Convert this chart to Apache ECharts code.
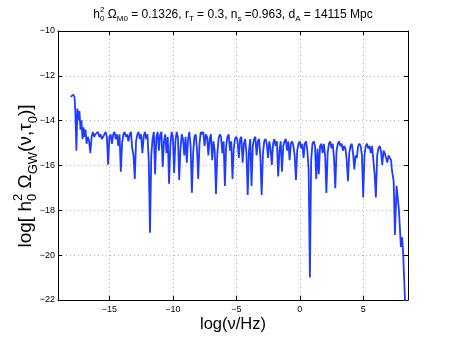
<html>
<head>
<meta charset="utf-8">
<script src="https://cdn.jsdelivr.net/npm/echarts@6/dist/echarts.min.js"></script>
<style>
  html, body, #main { width: 100%; height: 100%; margin: 0; background: #fff; }
</style>
</head>
<body>
<div id="main"></div>
<script>
// log(nu/Hz), log(h0^2 Omega_GW)
var spectrum = [
  [-18.05,-12.94],[-17.95,-12.89],[-17.85,-12.84],[-17.75,-12.94],[-17.68,-13.67],[-17.6,-15.34],[-17.52,-13.46],[-17.44,-13.98],[-17.36,-13.57],[-17.28,-14.4],
  [-17.2,-13.98],[-17.12,-14.82],[-17.04,-14.3],[-16.96,-14.72],[-16.88,-14.4],[-16.8,-15.03],[-16.7,-14.72],[-16.6,-14.92],[-16.5,-15.45],[-16.4,-14.72],
  [-16.3,-14.5],[-16.2,-14.72],[-16.1,-14.61],[-16.0,-14.66],[-15.9,-14.5],[-15.8,-14.72],[-15.7,-14.61],[-15.6,-14.82],[-15.5,-14.72],[-15.4,-14.61],
  [-15.3,-14.5],[-15.2,-14.72],[-15.1,-15.97],[-15.0,-14.72],[-14.9,-14.61],[-14.8,-15.03],[-14.7,-14.61],[-14.6,-14.5],[-14.5,-14.82],[-14.4,-14.61],
  [-14.3,-15.13],[-14.2,-14.61],[-14.1,-16.28],[-14.0,-15.03],[-13.9,-14.61],[-13.8,-14.5],[-13.7,-14.72],[-13.6,-14.61],[-13.5,-14.92],[-13.4,-14.61],
  [-13.3,-14.5],[-13.2,-15.24],[-13.1,-15.55],[-13.0,-16.6],[-12.9,-14.92],[-12.8,-14.61],[-12.7,-14.5],[-12.6,-14.82],[-12.5,-14.61],[-12.4,-15.45],
  [-12.3,-14.72],[-12.2,-14.5],[-12.1,-14.82],[-12.0,-14.61],[-11.9,-15.76],[-11.8,-19.0],[-11.7,-15.55],[-11.6,-14.82],[-11.5,-14.5],[-11.4,-16.39],
  [-11.3,-14.72],[-11.2,-14.5],[-11.1,-15.34],[-11.0,-14.61],[-10.9,-14.5],[-10.8,-16.07],[-10.7,-14.92],[-10.6,-14.61],[-10.5,-15.45],[-10.4,-14.72],
  [-10.3,-16.81],[-10.2,-15.13],[-10.1,-14.5],[-10.0,-14.72],[-9.9,-16.33],[-9.8,-14.92],[-9.7,-14.5],[-9.6,-14.72],[-9.5,-16.65],[-9.4,-15.24],
  [-9.3,-14.61],[-9.2,-14.82],[-9.1,-15.55],[-9.0,-14.72],[-8.9,-15.87],[-8.8,-14.82],[-8.7,-14.5],[-8.6,-15.13],[-8.5,-17.22],[-8.4,-15.45],
  [-8.3,-14.72],[-8.2,-14.61],[-8.1,-15.24],[-8.0,-16.6],[-7.9,-15.03],[-7.8,-14.5],[-7.7,-14.61],[-7.6,-14.5],[-7.5,-15.13],[-7.4,-14.61],
  [-7.3,-14.72],[-7.2,-15.55],[-7.1,-14.82],[-7.0,-14.61],[-6.9,-15.76],[-6.8,-14.92],[-6.7,-15.34],[-6.6,-17.27],[-6.5,-15.55],[-6.4,-14.82],
  [-6.3,-14.61],[-6.2,-14.72],[-6.1,-15.45],[-6.0,-14.92],[-5.9,-16.91],[-5.8,-15.13],[-5.7,-14.72],[-5.6,-14.61],[-5.5,-15.34],[-5.4,-14.92],
  [-5.3,-16.6],[-5.2,-15.24],[-5.1,-14.82],[-5.0,-14.72],[-4.9,-14.92],[-4.8,-15.66],[-4.7,-14.82],[-4.6,-14.72],[-4.5,-15.87],[-4.4,-15.03],
  [-4.3,-14.82],[-4.2,-15.45],[-4.1,-17.32],[-4.0,-15.34],[-3.9,-14.82],[-3.8,-16.91],[-3.7,-15.13],[-3.6,-14.82],[-3.5,-14.72],[-3.4,-15.55],
  [-3.3,-14.92],[-3.2,-14.82],[-3.1,-15.66],[-3.0,-17.32],[-2.9,-15.45],[-2.8,-14.92],[-2.7,-14.82],[-2.6,-15.03],[-2.5,-15.66],[-2.4,-14.92],
  [-2.3,-15.24],[-2.2,-15.97],[-2.1,-15.03],[-2.0,-14.82],[-1.9,-15.13],[-1.8,-14.92],[-1.7,-16.49],[-1.6,-15.34],[-1.5,-14.92],[-1.4,-16.28],
  [-1.3,-15.13],[-1.2,-14.92],[-1.1,-14.82],[-1.0,-15.34],[-0.9,-14.92],[-0.8,-15.76],[-0.7,-15.03],[-0.6,-14.92],[-0.5,-15.13],[-0.4,-15.55],
  [-0.3,-16.65],[-0.2,-15.34],[-0.1,-15.03],[0.0,-14.92],[0.1,-15.24],[0.2,-15.03],[0.3,-15.66],[0.4,-15.03],[0.5,-14.92],[0.6,-15.34],
  [0.7,-16.18],[0.8,-21.0],[0.9,-15.76],[1.0,-15.03],[1.1,-14.92],[1.2,-15.13],[1.3,-16.6],[1.4,-15.24],[1.5,-16.39],[1.6,-15.13],
  [1.7,-15.03],[1.8,-15.45],[1.9,-15.03],[2.0,-15.55],[2.1,-17.22],[2.2,-15.45],[2.3,-15.03],[2.4,-14.92],[2.5,-15.24],[2.6,-15.03],
  [2.7,-15.66],[2.8,-17.01],[2.9,-15.34],[3.0,-15.03],[3.1,-14.92],[3.2,-15.13],[3.3,-15.03],[3.4,-15.34],[3.5,-15.13],[3.6,-15.24],
  [3.7,-15.76],[3.8,-16.7],[3.9,-15.45],[4.0,-15.13],[4.1,-15.03],[4.2,-15.45],[4.3,-16.18],[4.4,-15.55],[4.5,-15.66],[4.6,-15.13],
  [4.7,-15.03],[4.8,-15.13],[4.9,-15.55],[5.0,-17.43],[5.1,-15.55],[5.2,-15.13],[5.3,-15.03],[5.4,-15.24],[5.5,-15.13],[5.6,-15.45],
  [5.7,-15.13],[5.8,-15.76],[5.9,-16.39],[6.0,-17.43],[6.1,-15.55],[6.2,-15.24],[6.3,-15.13],[6.4,-15.34],[6.5,-15.97],[6.6,-15.34],
  [6.7,-15.45],[6.8,-15.66],[6.9,-15.87],[7.0,-15.55],[7.1,-15.66],[7.2,-15.76],[7.26,-16.2],[7.4,-16.7],[7.5,-19.1],[7.63,-16.91],
  [7.72,-17.43],[7.81,-17.95],[7.97,-19.63],[8.07,-19.2],[8.15,-19.94],[8.29,-21.95],[8.4,-23.0]
];
var xTicks = [-15, -10, -5, 0, 5];
var xRange = [-19.05, 8.53];
var yRange = [-22, -10];

var FONT = '"Liberation Sans", Arial, sans-serif';
var measureCtx = document.createElement('canvas').getContext('2d');
function textWidth(t, size) {
  measureCtx.font = size + 'px ' + FONT;
  return measureCtx.measureText(t).width;
}

// lay out a run of text pieces with sub/superscripts along local x
// piece: [text, size, dy] or {stack: [[text,size,dy],[text,size,dy]]}
function runText(pieces) {
  var children = [], x = 0;
  pieces.forEach(function (p) {
    var group = p.stack ? p.stack : [p];
    var w = 0;
    group.forEach(function (q) {
      children.push({
        type: 'text',
        style: { text: q[0], x: x, y: q[2], font: q[1] + 'px ' + FONT, fill: '#000', textVerticalAlign: 'middle' }
      });
      w = Math.max(w, textWidth(q[0], q[1]));
    });
    x += w;
  });
  return { children: children, width: x };
}

var title = runText([
  ['h', 12, 0], { stack: [['2', 8, -5], ['0', 8, 4]] },
  [' \u03A9', 12, 0], ['M0', 8, 4],
  [' = 0.1326, r', 12, 0], ['T', 8, 4],
  [' = 0.3, n', 12, 0], ['s', 8, 4],
  [' =0.963, d', 12, 0], ['A', 8, 4],
  [' = 14115 Mpc', 12, 0]
]);
var yName = runText([
  ['log[ h', 19, 0], { stack: [['2', 13, -8], ['0', 13, 6]] },
  [' \u03A9', 19, 0], ['GW', 13, 7],
  ['(\u03BD,\u03C4', 19, 0], ['0', 13, 7],
  [')]', 19, 0]
]);

function minus(v) { return String(v).replace('-', '\u2212'); }

var chart = echarts.init(document.getElementById('main'));
var dotted = { show: true, lineStyle: { color: '#b4b4b4', type: [1, 3], width: 1 } };
var frameLine = { onZero: false, lineStyle: { color: '#000', width: 1 } };
var option = {
  animation: false,
  grid: { left: 58, right: 43, top: 31, bottom: 38 },
  xAxis: [{
    type: 'value', min: xRange[0], max: xRange[1],
    axisLine: frameLine,
    axisTick: { inside: true, length: 4, customValues: xTicks, lineStyle: { color: '#000' } },
    axisLabel: { customValues: xTicks, fontSize: 9, color: '#000', fontFamily: FONT, margin: 5, formatter: minus },
    splitLine: Object.assign({ customValues: xTicks }, dotted)
  }, {
    type: 'value', position: 'top', min: xRange[0], max: xRange[1],
    axisLine: frameLine,
    axisTick: { inside: true, length: 4, customValues: xTicks, lineStyle: { color: '#000' } },
    axisLabel: { show: false }, splitLine: { show: false }
  }],
  yAxis: [{
    type: 'value', min: yRange[0], max: yRange[1], interval: 2,
    axisLine: Object.assign({ show: true }, frameLine),
    axisTick: { show: true, inside: true, length: 4, lineStyle: { color: '#000' } },
    axisLabel: { fontSize: 9, color: '#000', fontFamily: FONT, margin: 3, formatter: minus },
    splitLine: dotted
  }, {
    type: 'value', position: 'right', min: yRange[0], max: yRange[1], interval: 2,
    axisLine: Object.assign({ show: true }, frameLine),
    axisTick: { show: true, inside: true, length: 4, lineStyle: { color: '#000' } },
    axisLabel: { show: false }, splitLine: { show: false }
  }],
  series: [{
    type: 'line', data: spectrum, showSymbol: false, clip: true,
    lineStyle: { color: '#1f3cff', width: 1.8 }
  }],
  graphic: [
    { type: 'group', x: 233 - title.width / 2, y: 15, children: title.children },
    { type: 'group', x: 26, y: 176 + yName.width / 2, rotation: Math.PI / 2, children: yName.children },
    { type: 'text', style: { text: 'log(\u03BD/Hz)', x: 233, y: 324, font: '16.5px ' + FONT, fill: '#000', textAlign: 'center', textVerticalAlign: 'middle' } }
  ]
};
chart.setOption(option);
window.onresize = function () { chart.resize(); };
</script>
</body>
</html>
